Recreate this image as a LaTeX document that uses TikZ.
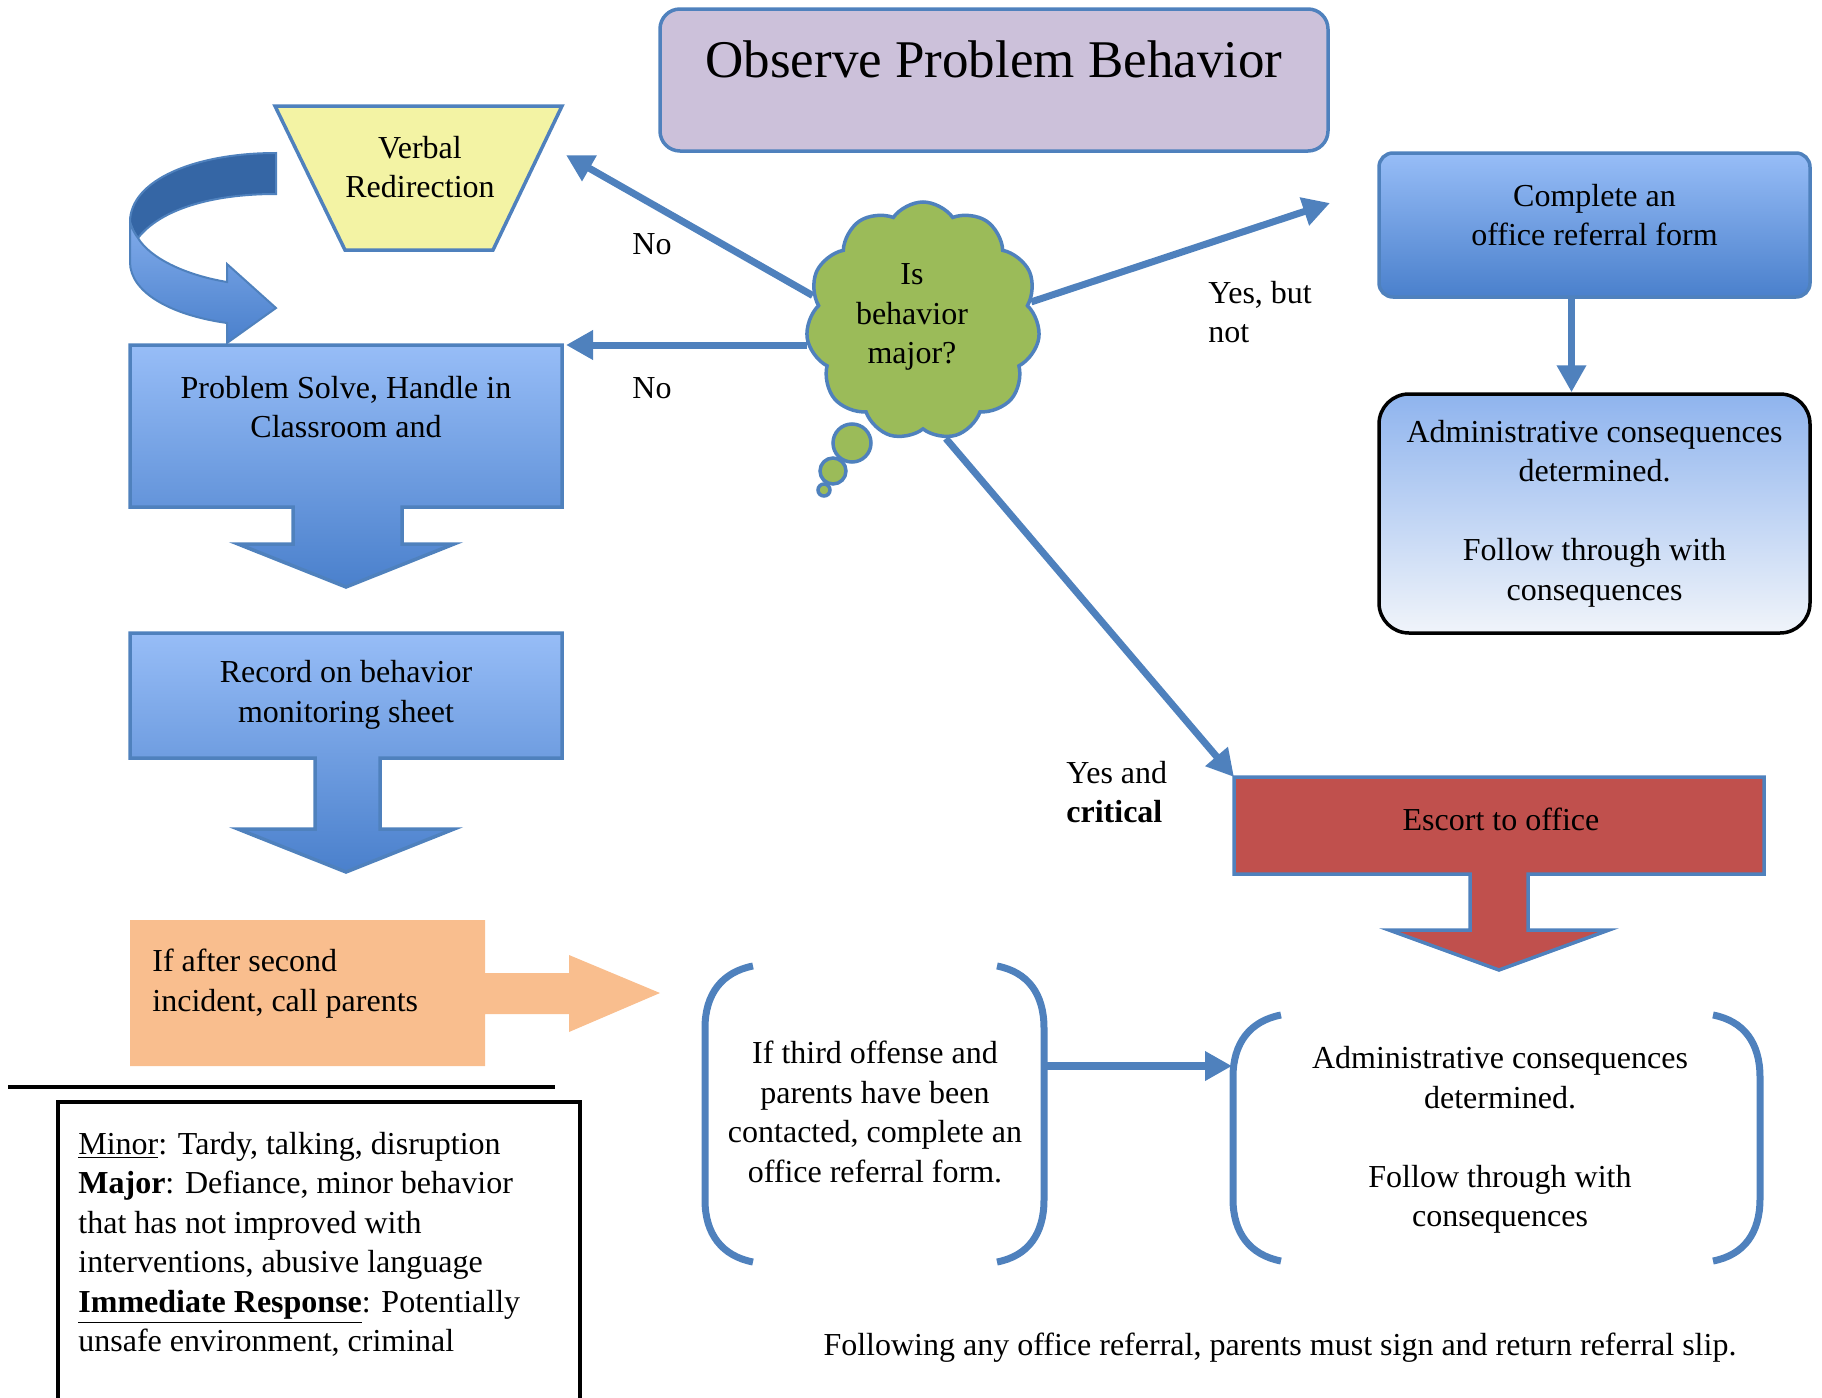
\documentclass[tikz,border=0pt]{standalone}
\usepackage{fontspec}
\setmainfont{Liberation Serif}
\usetikzlibrary{arrows.meta, shapes.symbols}

\definecolor{edgeblue}{RGB}{79,129,189}
\definecolor{lavender}{RGB}{204,193,218}
\definecolor{paleyellow}{RGB}{243,243,164}
\definecolor{lightblue}{RGB}{151,189,247}
\definecolor{deepblue}{RGB}{74,128,204}
\definecolor{midblue}{RGB}{143,180,238}
\definecolor{paleblue}{RGB}{240,244,250}
\definecolor{darkband}{RGB}{53,102,165}
\definecolor{peach}{RGB}{249,190,142}
\definecolor{brick}{RGB}{192,80,77}
\definecolor{leafgreen}{RGB}{155,187,89}

\tikzset{
	body/.style = {font=\fontsize{16}{19.75}\selectfont, align=center, inner sep=0pt},
	bluefill/.style = {draw=edgeblue, line width=1.75pt, top color=lightblue, bottom color=deepblue},
	flowline/.style = {draw=edgeblue, line width=3.5pt, -{Triangle[length=13.5pt, width=14pt]}},
	bracketline/.style = {draw=edgeblue, line width=3.5pt},
}

\begin{document}
\begin{tikzpicture}[x=0.5pt, y=-0.5pt]
	\useasboundingbox (0,0) rectangle (1822,1398);
	\clip (0,0) rectangle (1822,1398);

	% title and the right hand boxes
	\node[body, font=\fontsize{26.5}{32}\selectfont, draw=edgeblue, line width=1.75pt, fill=lavender, rounded corners=10pt, minimum width=334pt, minimum height=71pt, text depth=21pt] (title) at (994,80) {Observe Problem Behavior};
	\node[body, bluefill, rounded corners=7pt, minimum width=215.5pt, minimum height=72pt, text depth=10pt] (referral) at (1594.5,225) {Complete an\\office referral form};
	\node[body, draw=black, line width=1.75pt, top color=midblue, bottom color=paleblue, rounded corners=15pt, minimum width=215.5pt, minimum height=119.5pt] (admin) at (1594.5,513.5) {Administrative consequences\\determined.\\[19.75pt]Follow through with\\consequences};

	% shapes on the left
	\draw[draw=edgeblue, line width=1.75pt, fill=paleyellow] (275,106) -- (562,106) -- (493,250) -- (345,250) -- cycle;
	\path[draw=edgeblue, line width=1pt, fill=darkband] (276,153) .. controls (195,153) and (130,180) .. (130,222) .. controls (132,229) and (135,234) .. (138,238) .. controls (160,210) and (210,194) .. (276,194) -- cycle;
	\path[draw=edgeblue, line width=1pt, top color=lightblue!70!deepblue, bottom color=deepblue] (130,222) -- (130,262) .. controls (130,292) and (170,315) .. (227,323) -- (227,343) -- (276,308) -- (227,264) -- (227,282) .. controls (185,275) and (150,258) .. (138,238) .. controls (135,234) and (132,229) .. (130,222) -- cycle;
	\path[bluefill] (130,345) -- (562,345) -- (562,507) -- (402,507) -- (402,544) -- (454,544) -- (346,587) -- (238,544) -- (293,544) -- (293,507) -- (130,507) -- cycle;
	\path[bluefill] (130,633) -- (562,633) -- (562,758) -- (380,758) -- (380,829) -- (454,829) -- (346,872) -- (238,829) -- (315,829) -- (315,758) -- (130,758) -- cycle;
	\fill[peach] (130,920) -- (485,920) -- (485,973) -- (569,973) -- (569,955) -- (660,993) -- (569,1032) -- (569,1014) -- (485,1014) -- (485,1066) -- (130,1066) -- cycle;
	\draw[line width=2pt] (8,1087) -- (555,1087);
	\draw[line width=2pt] (58,1420) -- (58,1102) -- (580,1102) -- (580,1420);

	% escort callout
	\draw[draw=edgeblue, line width=1.75pt, fill=brick] (1234,777) -- (1764,777) -- (1764,874) -- (1528,874) -- (1528,930) -- (1609,930) -- (1499,970) -- (1389,930) -- (1470,930) -- (1470,874) -- (1234,874) -- cycle;

	% brackets
	\foreach \l/\r/\t/\b in {705/1044/966/1262, 1233/1760/1015/1261}
	{
		\draw[bracketline] ({\l+48},\t) .. controls ({\l+17},{\t+6}) and (\l,{\t+28}) .. (\l,{\t+62}) -- (\l,{\b-62}) .. controls (\l,{\b-28}) and ({\l+17},{\b-6}) .. ({\l+48},\b);
		\draw[bracketline] ({\r-47},\t) .. controls ({\r-16},{\t+6}) and (\r,{\t+28}) .. (\r,{\t+62}) -- (\r,{\b-62}) .. controls (\r,{\b-28}) and ({\r-16},{\b-6}) .. ({\r-47},\b);
	}

	% the question
	\node[body, cloud, cloud puffs=11, cloud puff arc=110, aspect=1, draw=edgeblue, line width=1.75pt, fill=leafgreen, minimum width=117pt, minimum height=119pt] (think) at (923,321) {};
	\node[circle, draw=edgeblue, line width=1.75pt, fill=leafgreen, minimum size=19pt, inner sep=0pt] (bubblea) at (852,443) {};
	\node[circle, draw=edgeblue, line width=1.75pt, fill=leafgreen, minimum size=13pt, inner sep=0pt] (bubbleb) at (833,471) {};
	\node[circle, draw=edgeblue, line width=1.75pt, fill=leafgreen, minimum size=6pt, inner sep=0pt] (bubblec) at (824,490) {};
	\node[body] (question) at (912,317) {Is\\behavior\\major?};

	% texts
	\node[body] (verbal) at (420,167) {Verbal\\Redirection};
	\node[body] (solve) at (346,407) {Problem Solve, Handle in\\Classroom and};
	\node[body] (record) at (346,695) {Record on behavior\\monitoring sheet};
	\node[body, align=left, anchor=west] (parents) at (152,983.5) {If after second\\incident, call parents};
	\node[body] (escort) at (1501,819) {Escort to office};
	\node[body] (third) at (875,1112) {If third offense and\\parents have been\\contacted, complete an\\office referral form.};
	\node[body] (conseq) at (1500,1140) {Administrative consequences\\determined.\\[19.75pt]Follow through with\\consequences};
	\node[body, align=left, anchor=west] (legend) at (78,1244.5) {\underline{Minor}: Tardy, talking, disruption\\\textbf{Major}: Defiance, minor behavior\\that has not improved with\\interventions, abusive language\\\textbf{\underline{Immediate Response}}: Potentially\\unsafe environment, criminal};
	\node[body] (footer) at (1280,1348) {Following any office referral, parents must sign and return referral slip.};

	\node[body] (nolabela) at (652,244) {No};
	\node[body] (nolabelb) at (652,388) {No};
	\node[body, align=left, anchor=west] (yeslabel) at (1208,312) {Yes, but\\not};
	\node[body, align=left, anchor=west] (critlabel) at (1066,792) {Yes and\\\textbf{critical}};

	% connectors
	\coordinate (tipverbal) at (566,155);
	\coordinate (tipsolve) at (566,345);
	\coordinate (tipreferral) at (1330,203);
	\coordinate (escortcorner) at (1234,777);
	\coordinate (thirdout) at (1046,1066);
	\coordinate (conseqin) at (1232,1066);

	\draw[flowline] (think.167) -- (tipverbal);
	\draw[flowline] (tipsolve -| think.west) -- (tipsolve);
	\draw[flowline] (think.10) -- (tipreferral);
	\draw[flowline] (think.-79) -- (escortcorner);
	\draw[flowline] ([xshift=-11.5pt]referral.south) -- ([xshift=-11.5pt]admin.north);
	\draw[flowline, line width=4pt] (thirdout) -- (conseqin);
\end{tikzpicture}
\end{document}
